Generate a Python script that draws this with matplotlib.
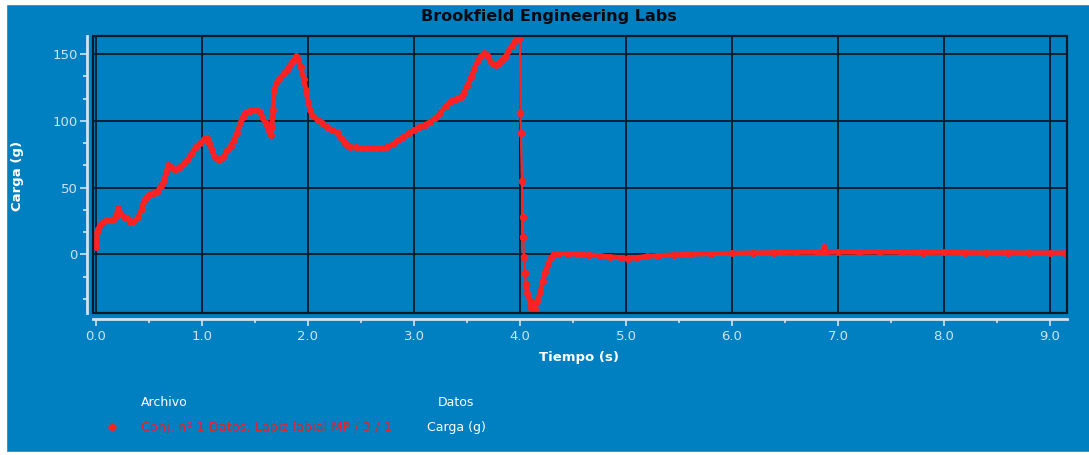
import matplotlib
matplotlib.use("Agg")
import matplotlib.pyplot as plt
from matplotlib.ticker import MultipleLocator, FixedLocator
from matplotlib.patches import Rectangle
from matplotlib.lines import Line2D

# ---------------- data ----------------
tiempo = [0.00, 0.005, 0.01, 0.02, 0.04, 0.07, 0.10, 0.13, 0.16, 0.19, 0.21, 0.23, 0.26, 0.29,
          0.32, 0.36, 0.40, 0.43, 0.45, 0.48, 0.51, 0.55, 0.58, 0.61, 0.64, 0.66, 0.68, 0.71,
          0.75, 0.79, 0.83, 0.86, 0.90, 0.94, 0.98, 1.02, 1.05, 1.07, 1.09, 1.12, 1.16, 1.20,
          1.24, 1.27, 1.30, 1.33, 1.36, 1.39, 1.41, 1.45, 1.49, 1.52, 1.55, 1.57, 1.60, 1.62,
          1.64, 1.65, 1.66, 1.67, 1.68, 1.70, 1.73, 1.77, 1.80, 1.83, 1.86, 1.89, 1.91, 1.93,
          1.96, 1.98, 2.00, 2.02, 2.05, 2.09, 2.13, 2.18, 2.23, 2.28, 2.31, 2.34, 2.37, 2.40,
          2.45, 2.50, 2.55, 2.60, 2.65, 2.70, 2.75, 2.80, 2.85, 2.90, 2.95, 3.00, 3.05, 3.10,
          3.15, 3.20, 3.25, 3.30, 3.35, 3.40, 3.44, 3.47, 3.50, 3.54, 3.57, 3.60, 3.63, 3.66,
          3.69, 3.72, 3.75, 3.77, 3.80, 3.83, 3.86, 3.89, 3.92, 3.95, 3.98, 4.00,
          # fast drop (sparse samples)
          4.003, 4.008, 4.018, 4.026, 4.030, 4.036, 4.045, 4.055,
          # recovery
          4.07, 4.09, 4.105, 4.12, 4.14, 4.165, 4.19, 4.215, 4.24, 4.265, 4.29, 4.32, 4.36,
          4.45, 4.55, 4.65, 4.75, 4.85, 4.95, 5.02, 5.10,
          5.20, 5.30, 5.45, 5.60, 5.80, 6.00, 6.20, 6.40, 6.60, 6.80, 6.85, 6.87, 6.89, 7.00,
          7.20, 7.40, 7.60, 7.80, 8.00, 8.20, 8.40, 8.60, 8.80, 9.00, 9.14]
carga = [5.5, 10, 16.7, 19, 21.7, 24, 25.5, 26, 25.5, 29, 35, 31, 28, 27,
         24, 25, 28, 34, 40, 43, 45.5, 46, 47, 51, 55, 61, 66.5, 65,
         63, 65.5, 68, 70.5, 75, 80.5, 83, 86, 86.8, 83, 78, 73, 70.5, 73,
         78, 81, 85.5, 91, 98, 103, 105.5, 107.5, 108, 108, 106.7, 103, 98, 94,
         90, 89, 95.5, 108, 123, 128, 131, 135.5, 138, 141.7, 145, 148.5, 146, 140.5,
         131, 123, 114, 108, 103.5, 100.5, 98, 95.5, 93, 90.5, 87, 84, 82, 80.5,
         80, 79.5, 79.3, 79.5, 79.3, 79.5, 80.5, 82.5, 85.5, 88, 90.5, 93, 95, 97,
         99, 102, 106, 111, 114.5, 116.5, 117.5, 121, 126, 133, 139, 145, 148.5, 150.5,
         149, 145, 142.5, 141.7, 143.5, 145.5, 148, 152, 156, 159.5, 162, 162.5,
         106, 91, 55, 28, 13, -2, -14, -22,
         -29, -35, -40, -43, -41, -35, -28, -20, -13, -7, -2.5, 0, 0.5,
         0.5, 0, -0.5, -1, -2, -2.5, -3.3, -2.5,
         -1.5, -1, -0.5, 0, 0.5, 0.7, 1, 1.2, 1.5, 1.5, 1.5, 5.5, 1.5, 1.7,
         1.5, 1.7, 1.5, 1.3, 1.5, 1.2, 1, 1.2, 1, 1, 1]

x_ticks = [0, 1, 2, 3, 4, 5, 6, 7, 8, 9]
x_ticklabels = ["0.0", "1.0", "2.0", "3.0", "4.0", "5.0", "6.0", "7.0", "8.0", "9.0"]
y_ticks = [0, 50, 100, 150]
y_ticklabels = ["0", "50", "100", "150"]

titulo = "Brookfield Engineering Labs"
etiqueta_x = "Tiempo (s)"
etiqueta_y = "Carga (g)"
leyenda_archivo = "Conj. nº 1 Datos: Lapiz labial MP / 3 / 1"
leyenda_datos = "Carga (g)"

# ---------------- style ----------------
BG = "#0080C0"
RED = "#FF2222"
LIGHT = "#CFE4F2"
plt.rcParams['font.family'] = ['DejaVu Sans']

W, H = 1089, 455
fig = plt.figure(figsize=(W / 100, H / 100), dpi=100)
fig.patch.set_facecolor(BG)
# white border of the screenshot
fig.patches.append(Rectangle((0, 0), 6 / W, 1, transform=fig.transFigure, color="white", zorder=-1))
fig.patches.append(Rectangle((0, 1 - 4 / H), 1, 4 / H, transform=fig.transFigure, color="white", zorder=-1))
fig.patches.append(Rectangle((0, 0), 1, 3 / H, transform=fig.transFigure, color="white", zorder=-1))

left, right, top, bottom = 93, 1067, 36, 313
ax = fig.add_axes([left / W, 1 - bottom / H, (right - left) / W, (bottom - top) / H])
ax.set_facecolor(BG)

# the drop after 4.0 s is sampled sparsely: thin line there, thick dense band elsewhere
i_top = tiempo.index(4.00)
i_bot = tiempo.index(4.055)
ax.plot(tiempo[:i_top + 1], carga[:i_top + 1], color=RED, lw=3.6, marker="o", ms=4.0,
        solid_joinstyle="round", solid_capstyle="round", zorder=3)
ax.plot(tiempo[i_top:i_bot + 1], carga[i_top:i_bot + 1], color=RED, lw=1.6, marker="o",
        ms=4.5, zorder=3)
ax.plot(tiempo[i_bot:], carga[i_bot:], color=RED, lw=3.6, marker="o", ms=4.0,
        solid_joinstyle="round", solid_capstyle="round", zorder=3)

ax.set_xlim(-0.028, 9.16)
ax.set_ylim(-44, 163.5)

ax.xaxis.set_major_locator(FixedLocator(x_ticks))
ax.set_xticklabels(x_ticklabels)
ax.xaxis.set_minor_locator(MultipleLocator(0.5))
ax.yaxis.set_major_locator(FixedLocator(y_ticks))
ax.set_yticklabels(y_ticklabels)
ax.yaxis.set_minor_locator(MultipleLocator(50 / 3))

ax.grid(True, which="major", color="#0A1A28", lw=1.3, zorder=1)

for s in ["top", "right"]:
    ax.spines[s].set_visible(False)
ax.spines["left"].set_position(("outward", 4))
ax.spines["bottom"].set_position(("outward", 4.5))
for s in ["left", "bottom"]:
    ax.spines[s].set_color(LIGHT)
    ax.spines[s].set_linewidth(2)

ax.tick_params(which="major", colors=LIGHT, length=5, width=1.2, labelsize=9.5, labelcolor=LIGHT)
ax.tick_params(which="minor", colors=LIGHT, length=3, width=1.2)
ax.tick_params(axis="y", pad=2)
ax.tick_params(axis="x", pad=3)

# black frame
ax.add_patch(Rectangle((0, 0), 1, 1, transform=ax.transAxes, fill=False,
                       ec="#0A1A28", lw=1.6, zorder=4, clip_on=False))

fig.text(549 / W, 1 - 16 / H, titulo, ha="center", va="center",
         fontsize=11.5, fontweight="bold", color="#050A10")
fig.text(579 / W, 1 - 358 / H, etiqueta_x, ha="center", va="center",
         fontsize=9.5, fontweight="bold", color="white")
fig.text(18 / W, 1 - 176 / H, etiqueta_y, ha="center", va="center", rotation=90,
         fontsize=9.5, fontweight="bold", color="white")

# legend block
fig.text(141 / W, 1 - 403 / H, "Archivo", ha="left", va="center", fontsize=9, color="white")
fig.text(438 / W, 1 - 403 / H, "Datos", ha="left", va="center", fontsize=9, color="white")
fig.lines.append(Line2D([112 / W], [1 - 427 / H], transform=fig.transFigure, marker="D",
                        ms=4.5, color=RED, mec=RED))
fig.text(141 / W, 1 - 428 / H, leyenda_archivo, ha="left", va="center", fontsize=9.3, color="#E8202A")
fig.text(427 / W, 1 - 428 / H, leyenda_datos, ha="left", va="center", fontsize=9, color="white")

fig.savefig("out.png", dpi=100, facecolor=BG)
